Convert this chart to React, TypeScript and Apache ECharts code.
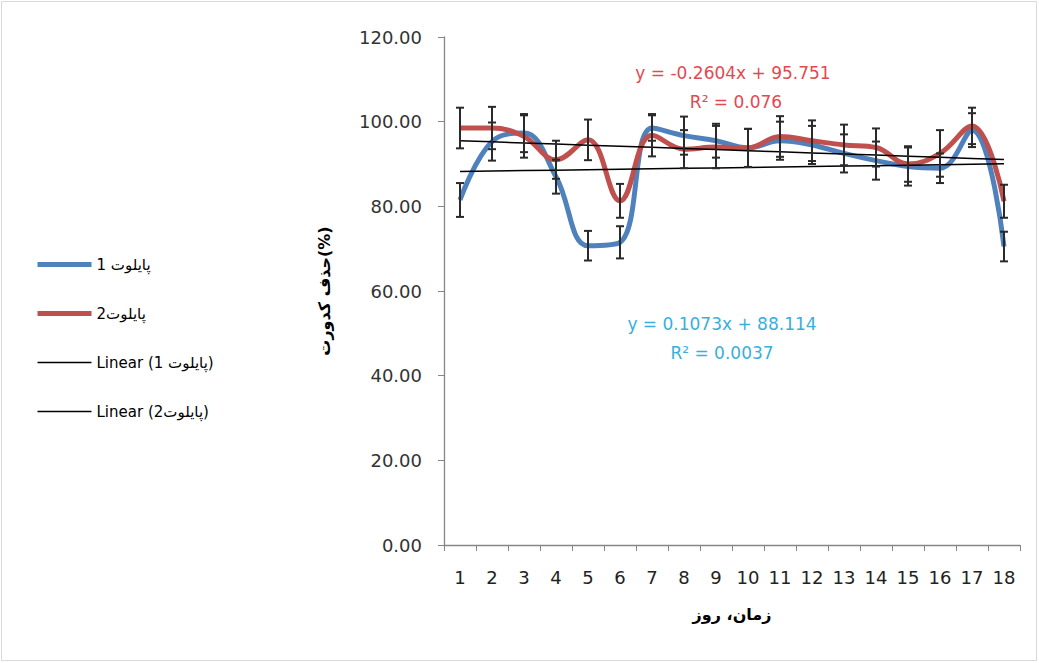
import React, { useEffect, useRef } from "react";
import * as echarts from "echarts";

const days = ["1","2","3","4","5","6","7","8","9","10","11","12","13","14","15","16","17","18"];
const pilot1 = [81.5, 95.3, 97.3, 87, 70.7, 71.5, 98.5, 96.7, 95.5, 93.8, 95.5, 94.5, 92.5, 90.8, 89.4, 89, 98, 70.5];
const pilot1Err = [4, 4.5, 4.5, 4, 3.5, 3.8, 3, 4.5, 4, 4.5, 4.5, 4.5, 4.5, 4.5, 4.5, 3.5, 4, 3.5];
const pilot2 = [98.5, 98.5, 96.5, 91, 95.7, 81.3, 96.8, 93.5, 94, 93.8, 96.5, 95.5, 94.5, 93.9, 90, 92.5, 99, 81.2];
const pilot2Err = [4.8, 5, 5, 4.5, 4.8, 4, 5, 4.5, 5, 4.5, 4.8, 4.8, 4.8, 4.5, 4.2, 5.5, 4.3, 3.9];
const yTicks = [0, 20, 40, 60, 80, 100, 120];

const name1 = "پایلوت 1";
const name2 = "پایلوت2";
const trendName1 = "Linear (پایلوت 1)";
const trendName2 = "Linear (پایلوت2)";
const slope1 = 0.1073, intercept1 = 88.114;
const slope2 = -0.2604, intercept2 = 95.751;
const eq1 = ["y = 0.1073x + 88.114", "R² = 0.0037"];
const eq2 = ["y = -0.2604x + 95.751", "R² = 0.076"];

const trend = (m: number, b: number) =>
  days.map((_, i) => +(m * (i + 1) + b).toFixed(3));

const errData = (vals: number[], errs: number[]) =>
  vals.map((v, i) => [i, v + errs[i], v - errs[i]]);

function renderErr(_params: any, api: any) {
  const x = api.value(0);
  const hi = api.coord([x, api.value(1)]);
  const lo = api.coord([x, api.value(2)]);
  const hw = 4;
  const style = { stroke: "#2a2a2a", lineWidth: 2, fill: "none" };
  return {
    type: "group",
    children: [
      { type: "line", shape: { x1: hi[0], y1: hi[1], x2: lo[0], y2: lo[1] }, style },
      { type: "line", shape: { x1: hi[0] - hw, y1: hi[1], x2: hi[0] + hw, y2: hi[1] }, style },
      { type: "line", shape: { x1: lo[0] - hw, y1: lo[1], x2: lo[0] + hw, y2: lo[1] }, style },
    ],
  };
}

export default function App() {
  const ref = useRef<HTMLDivElement>(null);
  useEffect(() => {
    if (!ref.current) return;
    const chart = echarts.init(ref.current, null, { renderer: "svg" });
    const font = "DejaVu Sans";
    chart.setOption({
      animation: false,
      backgroundColor: "#ffffff",
      grid: { left: 444, top: 37, right: 19, bottom: 118, containLabel: false },
      legend: {
        orient: "vertical",
        left: 30,
        top: 252,
        itemWidth: 54,
        itemHeight: 14,
        itemGap: 34,
        itemStyle: { opacity: 0 },
        data: [
          { name: name1, lineStyle: { width: 5 } },
          { name: name2, lineStyle: { width: 5 } },
          { name: trendName1, lineStyle: { width: 1.5 } },
          { name: trendName2, lineStyle: { width: 1.5 } },
        ],
        textStyle: { fontFamily: font, fontSize: 15, color: "#000" },
      },
      xAxis: {
        type: "category",
        data: days,
        boundaryGap: true,
        name: "زمان، روز",
        nameLocation: "middle",
        nameGap: 61,
        nameTextStyle: { fontFamily: font, fontSize: 16, fontWeight: "bold", color: "#000" },
        axisLine: { lineStyle: { color: "#868686", width: 1.3 } },
        axisTick: { show: true, length: 6, lineStyle: { color: "#868686" } },
        axisLabel: { fontFamily: font, fontSize: 18, color: "#222", margin: 23, interval: 0 },
        splitLine: { show: false },
      },
      yAxis: {
        type: "value",
        min: 0,
        max: 120,
        interval: 20,
        name: "حذف کدورت(%)",
        nameLocation: "middle",
        nameGap: 112,
        nameTextStyle: { fontFamily: font, fontSize: 16, fontWeight: "bold", color: "#000" },
        axisLine: { show: true, lineStyle: { color: "#868686", width: 1.3 } },
        axisTick: { show: true, length: 6, lineStyle: { color: "#868686" } },
        axisLabel: {
          fontFamily: font,
          fontSize: 18,
          color: "#333",
          margin: 22,
          formatter: (v: number) => (yTicks.includes(v) ? v.toFixed(2) : ""),
        },
        splitLine: { show: false },
      },
      series: [
        {
          name: name1,
          type: "line",
          data: pilot1,
          smooth: 0.4,
          symbol: "none",
          lineStyle: { color: "#4F81BD", width: 5 },
          itemStyle: { color: "#4F81BD" },
          z: 2,
        },
        {
          name: name2,
          type: "line",
          data: pilot2,
          smooth: 0.4,
          symbol: "none",
          lineStyle: { color: "#C0504D", width: 5 },
          itemStyle: { color: "#C0504D" },
          z: 3,
        },
        {
          name: trendName1,
          type: "line",
          data: trend(slope1, intercept1),
          symbol: "none",
          lineStyle: { color: "#000", width: 1.5 },
          itemStyle: { color: "#000" },
          z: 5,
        },
        {
          name: trendName2,
          type: "line",
          data: trend(slope2, intercept2),
          symbol: "none",
          lineStyle: { color: "#000", width: 1.5 },
          itemStyle: { color: "#000" },
          z: 5,
        },
        {
          name: "err1",
          type: "custom",
          renderItem: renderErr,
          data: errData(pilot1, pilot1Err),
          encode: { x: 0, y: [1, 2] },
          z: 6,
        },
        {
          name: "err2",
          type: "custom",
          renderItem: renderErr,
          data: errData(pilot2, pilot2Err),
          encode: { x: 0, y: [1, 2] },
          z: 6,
        },
      ],
      graphic: [
        {
          type: "rect",
          shape: { x: 1.5, y: 1.5, width: 1035, height: 659 },
          style: { fill: "none", stroke: "#d9d9d9", lineWidth: 1 },
          silent: true,
        },
        {
          type: "text",
          x: 733,
          y: 73,
          style: { text: eq2[0], fill: "#E5474F", font: `17px '${font}'`, textAlign: "center", textVerticalAlign: "middle" },
        },
        {
          type: "text",
          x: 736,
          y: 102,
          style: { text: eq2[1], fill: "#E5474F", font: `17px '${font}'`, textAlign: "center", textVerticalAlign: "middle" },
        },
        {
          type: "text",
          x: 722,
          y: 324,
          style: { text: eq1[0], fill: "#3AAEDC", font: `17px '${font}'`, textAlign: "center", textVerticalAlign: "middle" },
        },
        {
          type: "text",
          x: 722,
          y: 353,
          style: { text: eq1[1], fill: "#3AAEDC", font: `17px '${font}'`, textAlign: "center", textVerticalAlign: "middle" },
        },
      ],
    });
    return () => chart.dispose();
  }, []);
  return (
    <div
      ref={ref}
      style={{ position: "fixed", left: 0, top: 0, width: 1039, height: 663 }}
    />
  );
}
